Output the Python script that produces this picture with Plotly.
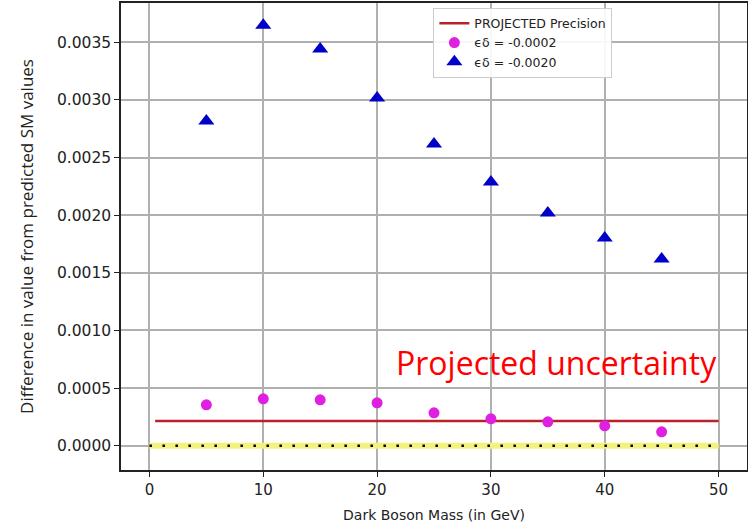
import plotly.graph_objects as go

mass = [5, 10, 15, 20, 25, 30, 35, 40, 45]
diff_small = [0.000355, 0.000407, 0.000399, 0.000373, 0.000286, 0.000234, 0.000208, 0.000173, 0.000121]
diff_large = [0.002816, 0.003648, 0.003440, 0.003016, 0.002617, 0.002288, 0.002019, 0.001802, 0.001620]
precision_x = [0.5, 50]
precision_y = [0.000215, 0.000215]
zero_x = [0, 50]
zero_y = [0, 0]
y_ticks = [0.0, 0.0005, 0.0010, 0.0015, 0.0020, 0.0025, 0.0030, 0.0035]
y_tick_text = ["0.0000", "0.0005", "0.0010", "0.0015", "0.0020", "0.0025", "0.0030", "0.0035"]
x_ticks = [0, 10, 20, 30, 40, 50]

fig = go.Figure()
fig.add_trace(go.Scatter(x=zero_x, y=zero_y, mode="lines",
                         line=dict(color="#f2f27e", width=6), showlegend=False, hoverinfo="skip"))
fig.add_trace(go.Scatter(x=zero_x, y=zero_y, mode="lines",
                         line=dict(color="black", width=2.5, dash="2.5px,10.5px"), showlegend=False, hoverinfo="skip"))
fig.add_trace(go.Scatter(x=precision_x, y=precision_y, mode="lines", name="PROJECTED Precision",
                         line=dict(color="#b8232a", width=2.5)))
fig.add_trace(go.Scatter(x=mass, y=diff_small, mode="markers", name="ϵδ = -0.0002",
                         marker=dict(symbol="circle", size=11, color="#e020e0")))
fig.add_trace(go.Scatter(x=mass, y=diff_large, mode="markers", name="ϵδ = -0.0020",
                         marker=dict(symbol="triangle-up", size=14, color="#0000c8")))

fig.add_annotation(text="Projected uncertainty", x=50, y=0.00072, xref="x", yref="y",
                   xanchor="right", yanchor="middle", showarrow=False,
                   font=dict(family="Open Sans", size=32, color="#ff0000"))

fig.update_layout(
    width=748, height=523,
    margin=dict(l=121, r=1, t=3, b=53),
    paper_bgcolor="white", plot_bgcolor="white",
    font=dict(family="DejaVu Sans", color="#222222"),
    legend=dict(x=0.499, y=0.99, xanchor="left", yanchor="top",
                bgcolor="rgba(255,255,255,0.9)", bordercolor="#cccccc", borderwidth=1,
                font=dict(size=12.5, family="DejaVu Sans", color="#222222"),
                itemwidth=30, tracegroupgap=0),
)
fig.update_xaxes(range=[-2.5, 52.5], tickvals=x_ticks, showgrid=True, gridcolor="#b0b0b0", gridwidth=1.5,
                 showline=True, linecolor="#222222", linewidth=1.5, mirror=True, automargin=False,
                 ticks="outside", ticklen=5, tickcolor="#222222", zeroline=False,
                 tickfont=dict(size=15),
                 title=dict(text="Dark Boson Mass (in GeV)", font=dict(size=14), standoff=14))
fig.update_yaxes(range=[-0.00021, 0.00384], tickvals=y_ticks, ticktext=y_tick_text,
                 showgrid=True, gridcolor="#b0b0b0", gridwidth=1.5,
                 showline=True, linecolor="#222222", linewidth=1.5, mirror=True, automargin=False,
                 ticks="outside", ticklen=5, tickcolor="#222222", zeroline=False,
                 tickfont=dict(size=15.5),
                 title=dict(text="Difference in value from predicted SM values",
                            font=dict(size=17, family="Open Sans"), standoff=19))

fig.write_html("out.html", config={"displayModeBar": False},
               post_script="document.body.style.margin='0';")
